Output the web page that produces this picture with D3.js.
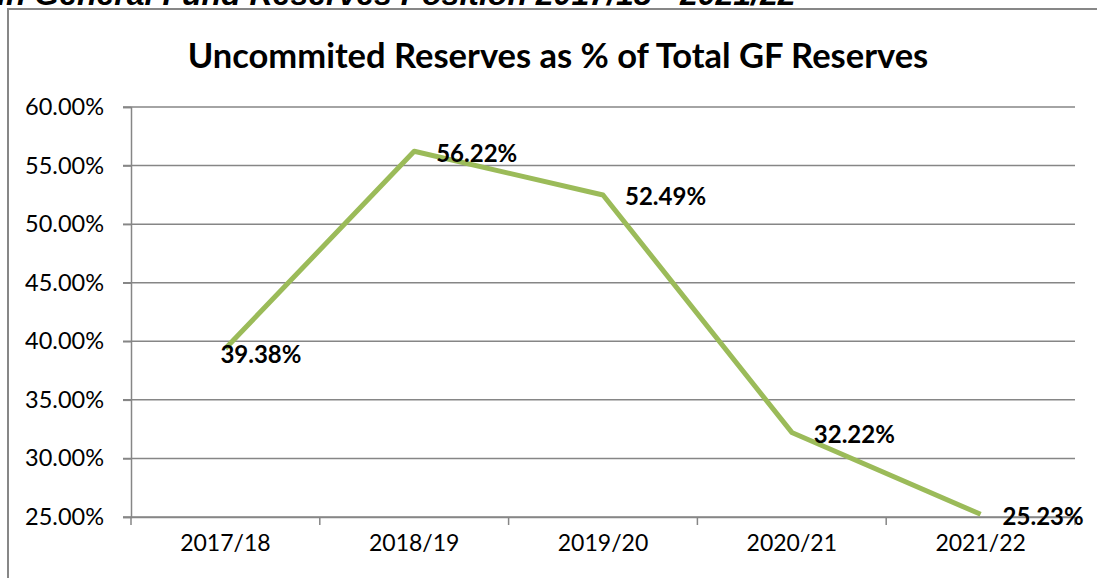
<!DOCTYPE html>
<html>
<head>
<meta charset="utf-8">
<script src="https://d3js.org/d3.v7.min.js"></script>
<style>
  body { margin: 0; background: #fff; }
  svg { display: block; }
  text { font-family: Lato, "Open Sans", sans-serif; }
</style>
</head>
<body>
<script>
// chart values
const years = ["2017/18", "2018/19", "2019/20", "2020/21", "2021/22"];
const uncommitted = [39.38, 56.22, 52.49, 32.22, 25.23];
const yTicks = [25, 30, 35, 40, 45, 50, 55, 60];

const width = 1097, height = 578;
const margin = { left: 131, right: 22, top: 107, bottom: 61 };

const svg = d3.select("body").append("svg")
    .attr("width", width)
    .attr("height", height);

// page heading, clipped by the top of the window
svg.append("text")
    .attr("x", -3)
    .attr("y", 5)
    .style("font-family", "'Liberation Sans', Arial, sans-serif")
    .attr("font-size", "32px")
    .attr("font-weight", "bold")
    .attr("font-style", "italic")
    .attr("fill", "#000")
    .text("in General Fund Reserves Position 2017/18 - 2021/22");

// chart frame
svg.append("rect")
    .attr("x", 8)
    .attr("y", 9)
    .attr("width", 1200)
    .attr("height", 700)
    .attr("fill", "#fff")
    .attr("stroke", "#878787")
    .attr("stroke-width", 2);

svg.append("text")
    .attr("x", 558)
    .attr("y", 68)
    .attr("text-anchor", "middle")
    .attr("font-size", "34.5px")
    .attr("font-weight", "bold")
    .attr("fill", "#000")
    .text("Uncommited Reserves as % of Total GF Reserves");

let x = d3.scaleBand()
    .domain(years)
    .range([margin.left, width - margin.right]);

let y = d3.scaleLinear()
    .domain([25, 60])
    .range([height - margin.bottom, margin.top]);

// gridlines
svg.append("g")
    .selectAll("line")
    .data(yTicks)
    .join("line")
        .attr("x1", margin.left - 8)
        .attr("x2", width - margin.right)
        .attr("y1", d => y(d))
        .attr("y2", d => y(d))
        .attr("stroke", "#868686")
        .attr("stroke-width", 1.5);

// y axis
let yAxis = svg.append("g")
    .attr("transform", `translate(${margin.left},0)`)
    .call(d3.axisLeft(y).tickValues(yTicks).tickSize(8).tickPadding(19)
        .tickFormat(d => d.toFixed(2) + "%"));
yAxis.selectAll("path, line").attr("stroke", "#868686").attr("stroke-width", 1.5);
yAxis.selectAll("text").attr("font-size", "23.5px").attr("fill", "#000");

// x axis
let xAxis = svg.append("g")
    .attr("transform", `translate(0,${height - margin.bottom})`)
    .call(d3.axisBottom(x).tickSize(0).tickPadding(18));
xAxis.select("path").attr("stroke", "#868686").attr("stroke-width", 1.5);
xAxis.selectAll("text").attr("font-size", "23px").attr("fill", "#000");
xAxis.selectAll(".sep")
    .data(d3.range(years.length + 1))
    .join("line")
        .attr("class", "sep")
        .attr("x1", i => margin.left + i * x.step())
        .attr("x2", i => margin.left + i * x.step())
        .attr("y1", 0)
        .attr("y2", 8)
        .attr("stroke", "#868686")
        .attr("stroke-width", 1.5);

// line
let line = d3.line()
    .x((d, i) => x(years[i]) + x.bandwidth() / 2)
    .y(d => y(d));

svg.append("path")
    .datum(uncommitted)
    .attr("d", line)
    .attr("fill", "none")
    .attr("stroke", "#9BBB59")
    .attr("stroke-width", 5)
    .attr("stroke-linejoin", "round");

// data labels
svg.append("g")
    .selectAll("text")
    .data(uncommitted)
    .join("text")
        .attr("x", (d, i) => x(years[i]) + x.bandwidth() / 2 + (i === 0 ? -5 : 22))
        .attr("y", (d, i) => y(d) + (i === 0 ? 6 : 2))
        .attr("dy", "0.35em")
        .attr("font-size", "24px")
        .attr("font-weight", "bold")
        .attr("fill", "#000")
        .text(d => d.toFixed(2) + "%");
</script>
</body>
</html>
